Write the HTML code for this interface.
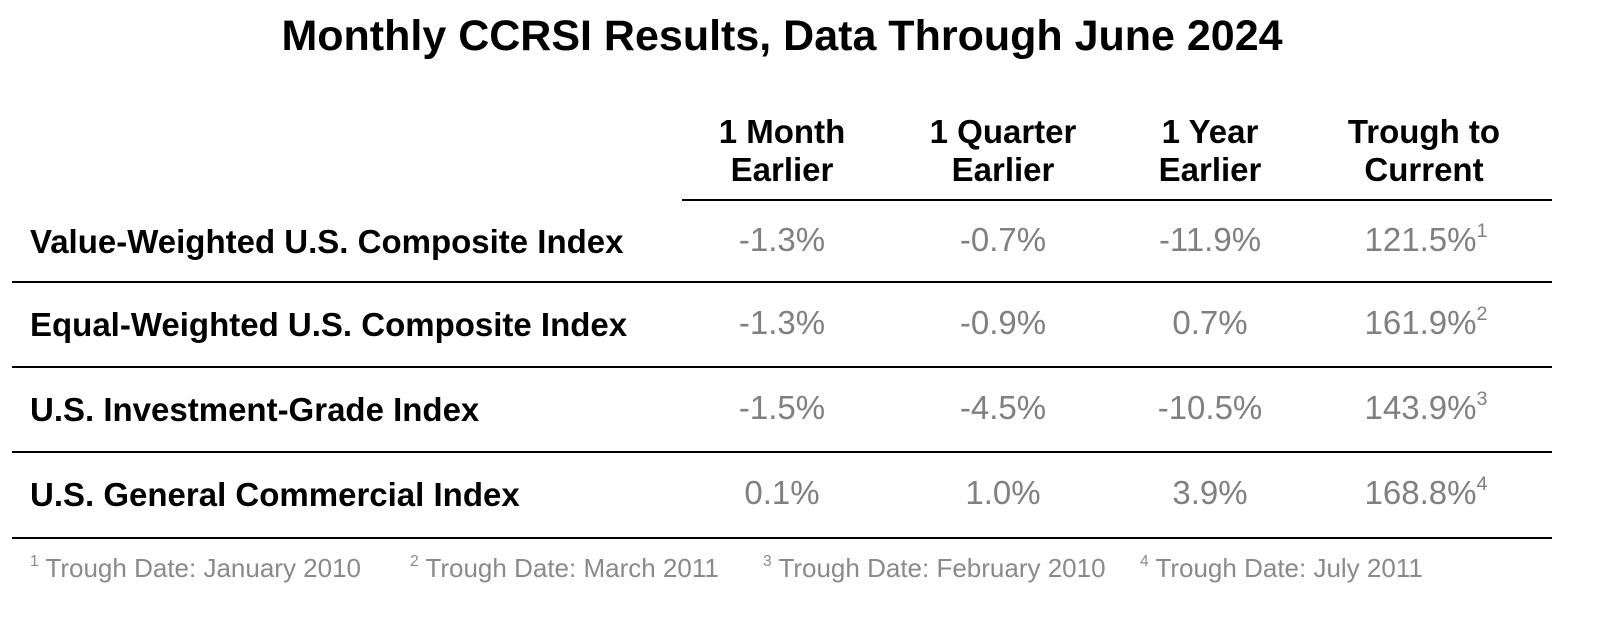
<!DOCTYPE html>
<html><head><meta charset="utf-8"><style>
body{margin:0;width:1600px;height:621px;background:#fff;position:relative;overflow:hidden;font-family:"Liberation Sans",Arial,sans-serif}
.a{position:absolute;white-space:nowrap;line-height:40px}
.t{left:0;width:1564px;text-align:center;top:14px;font-size:43px;font-weight:bold;color:#000;line-height:44px}
.h{font-size:33px;font-weight:bold;text-align:center;line-height:38px;color:#000;width:260px;top:113px}
.l{left:30px;font-size:33px;font-weight:bold;color:#000}
.v{font-size:33px;color:#808080;text-align:center;width:240px}
.ln{position:absolute;height:2px;background:#000}
.f{font-size:26px;color:#8a8a8a;top:548px}
sup{font-size:0.6em;vertical-align:0.7em;line-height:0}
</style></head><body>
<div class="a t">Monthly CCRSI Results, Data Through June 2024</div>
<div class="a h" style="left:652px">1 Month<br>Earlier</div>
<div class="a h" style="left:873px">1 Quarter<br>Earlier</div>
<div class="a h" style="left:1080px">1 Year<br>Earlier</div>
<div class="a h" style="left:1294px">Trough to<br>Current</div>
<div class="ln" style="left:682px;width:870px;top:199px"></div>

<div class="a l" style="top:222px">Value-Weighted U.S. Composite Index</div>
<div class="a v" style="left:662px;top:220px">-1.3%</div>
<div class="a v" style="left:883px;top:220px">-0.7%</div>
<div class="a v" style="left:1090px;top:220px">-11.9%</div>
<div class="a v" style="left:1306px;top:220px">121.5%<sup>1</sup></div>
<div class="ln" style="left:12px;width:1540px;top:281px"></div>

<div class="a l" style="top:305px">Equal-Weighted U.S. Composite Index</div>
<div class="a v" style="left:662px;top:303px">-1.3%</div>
<div class="a v" style="left:883px;top:303px">-0.9%</div>
<div class="a v" style="left:1090px;top:303px">0.7%</div>
<div class="a v" style="left:1306px;top:303px">161.9%<sup>2</sup></div>
<div class="ln" style="left:12px;width:1540px;top:366px"></div>

<div class="a l" style="top:390px">U.S. Investment-Grade Index</div>
<div class="a v" style="left:662px;top:388px">-1.5%</div>
<div class="a v" style="left:883px;top:388px">-4.5%</div>
<div class="a v" style="left:1090px;top:388px">-10.5%</div>
<div class="a v" style="left:1306px;top:388px">143.9%<sup>3</sup></div>
<div class="ln" style="left:12px;width:1540px;top:451px"></div>

<div class="a l" style="top:475px">U.S. General Commercial Index</div>
<div class="a v" style="left:662px;top:473px">0.1%</div>
<div class="a v" style="left:883px;top:473px">1.0%</div>
<div class="a v" style="left:1090px;top:473px">3.9%</div>
<div class="a v" style="left:1306px;top:473px">168.8%<sup>4</sup></div>
<div class="ln" style="left:12px;width:1540px;top:537px"></div>

<div class="a f" style="left:30px"><sup>1</sup> Trough Date: January 2010</div>
<div class="a f" style="left:410px"><sup>2</sup> Trough Date: March 2011</div>
<div class="a f" style="left:763px"><sup>3</sup> Trough Date: February 2010</div>
<div class="a f" style="left:1140px"><sup>4</sup> Trough Date: July 2011</div>
</body></html>
